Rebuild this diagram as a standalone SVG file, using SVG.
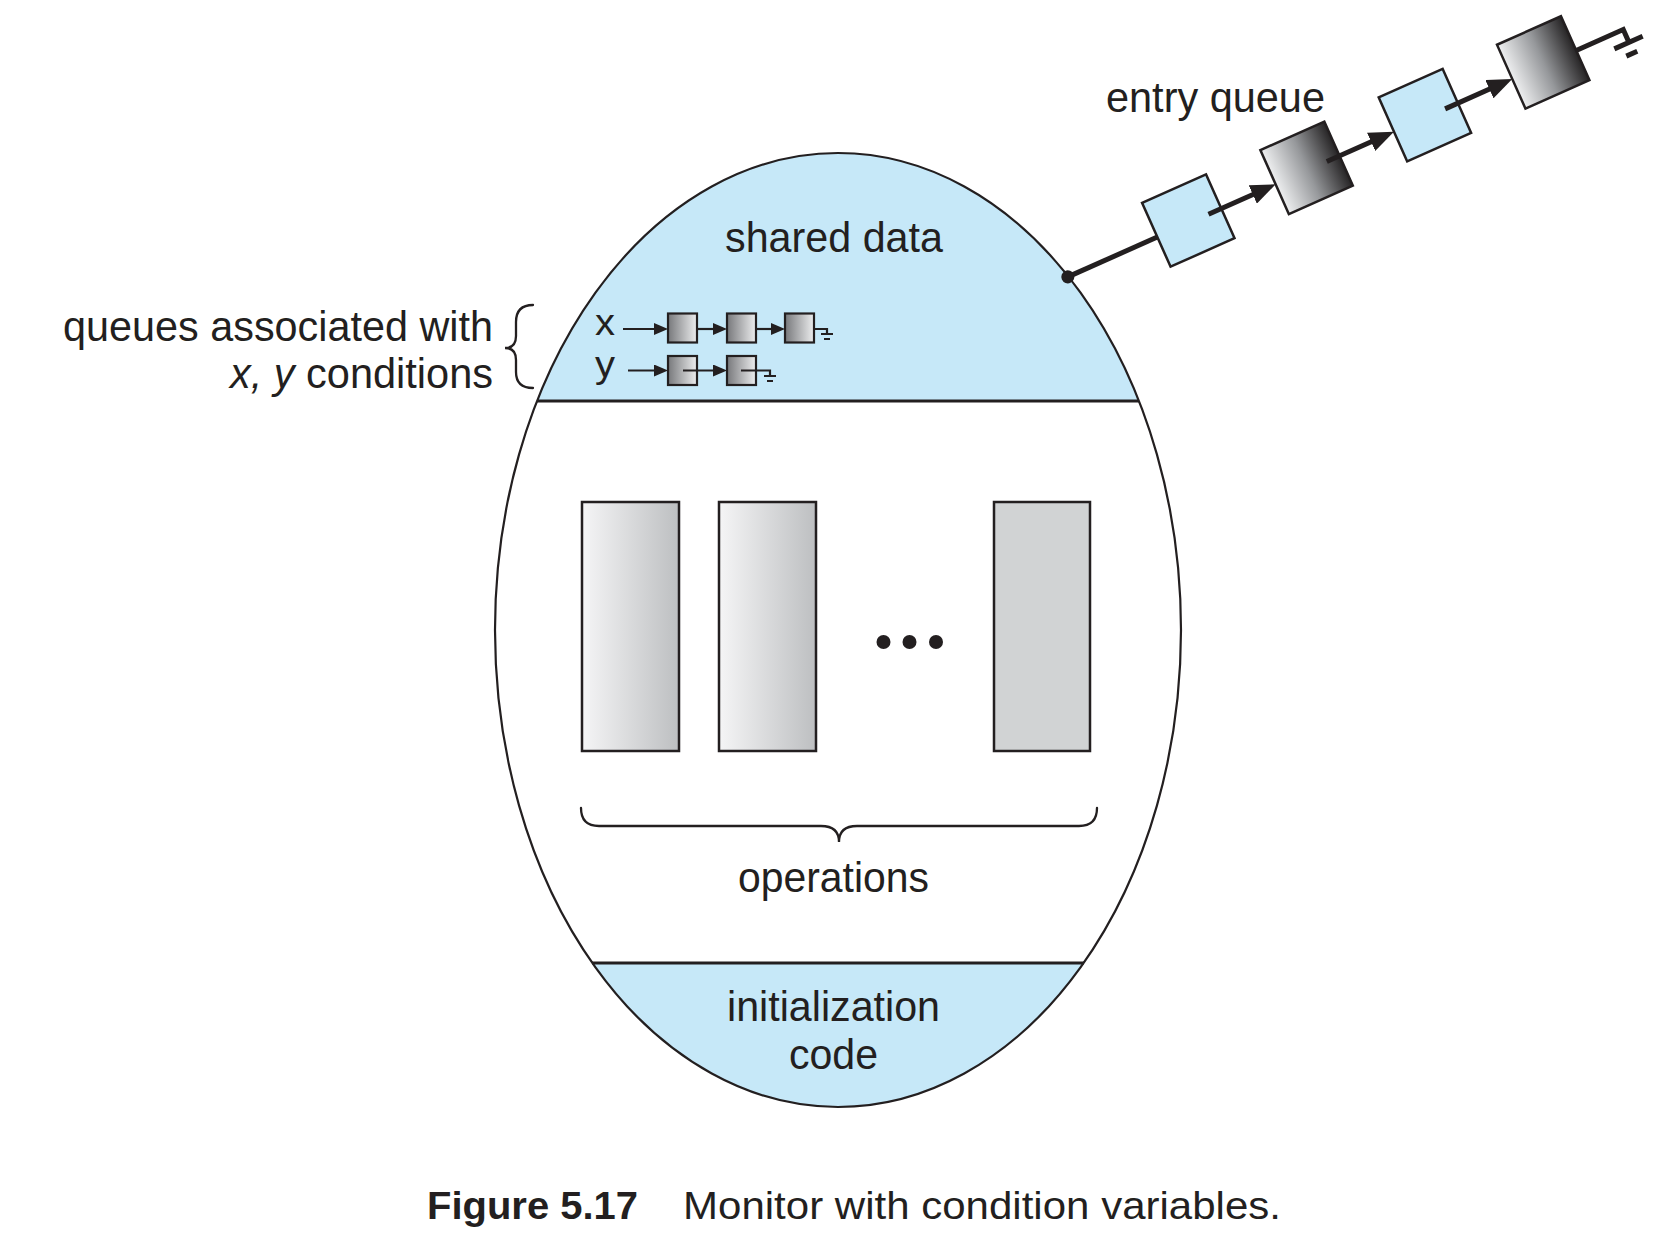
<svg xmlns="http://www.w3.org/2000/svg" width="1658" height="1240" viewBox="0 0 1658 1240">
  <style>
    .t { font-family: "Liberation Sans", Arial, sans-serif; font-size: 42px; fill: #231F20; }
    .ts { font-family: "Liberation Sans", Arial, sans-serif; font-size: 37px; fill: #231F20; }
    .cap { font-family: "Liberation Sans", Arial, sans-serif; font-size: 39px; fill: #231F20; }
    .edge { fill: none; stroke: #231F20; stroke-width: 2.2; }
    .band { fill: #C6E8F8; }
    .bandline { stroke: #231F20; stroke-width: 3; }
    .op { stroke: #231F20; stroke-width: 2.5; }
    .brace { fill: none; stroke: #231F20; stroke-width: 2.3; stroke-linecap: round; }
    .sbox { fill: url(#gSmall); stroke: #231F20; stroke-width: 2.2; }
    .sline { fill: none; stroke: #231F20; stroke-width: 2.2; }
    .ebox-blue { fill: #C6E8F8; stroke: #231F20; stroke-width: 2.5; }
    .ebox-dark { fill: url(#gDark); stroke: #231F20; stroke-width: 2.5; }
    .eline { fill: none; stroke: #231F20; stroke-width: 5; }
  </style>
  <defs>
    <linearGradient id="gOp" x1="0" y1="0" x2="1" y2="0">
      <stop offset="0" stop-color="#F5F5F6"/>
      <stop offset="1" stop-color="#BDBFC1"/>
    </linearGradient>
    <linearGradient id="gDark" x1="0" y1="0" x2="1" y2="0">
      <stop offset="0" stop-color="#EEEFF0"/>
      <stop offset="0.5" stop-color="#96989B"/>
      <stop offset="1" stop-color="#262425"/>
    </linearGradient>
    <linearGradient id="gSmall" x1="0" y1="0" x2="1" y2="0">
      <stop offset="0" stop-color="#77787B"/>
      <stop offset="1" stop-color="#EDEEEF"/>
    </linearGradient>
    <clipPath id="eggClip">
      <ellipse cx="838" cy="630" rx="343" ry="477"/>
    </clipPath>
    <marker id="arrS" viewBox="0 0 14 12" refX="8" refY="6" markerWidth="14" markerHeight="12" markerUnits="userSpaceOnUse" orient="auto">
      <path d="M0,0 L14,6 L0,12 z" fill="#231F20"/>
    </marker>
    <marker id="arrE" viewBox="0 0 25 20" refX="15" refY="10" markerWidth="25" markerHeight="20" markerUnits="userSpaceOnUse" orient="auto">
      <path d="M0,0 L25,10 L0,20 z" fill="#231F20"/>
    </marker>
  </defs>

  <rect x="0" y="0" width="1658" height="1240" fill="#FFFFFF"/>

  <!-- Monitor body -->
  <g id="monitor">
    <ellipse cx="838" cy="630" rx="343" ry="477" fill="#FFFFFF"/>
    <g clip-path="url(#eggClip)">
      <rect class="band" x="480" y="140" width="720" height="261"/>
      <rect class="band" x="480" y="963" width="720" height="160"/>
    </g>
    <line class="bandline" x1="537" y1="401" x2="1139" y2="401"/>
    <line class="bandline" x1="592" y1="963" x2="1084" y2="963"/>
    <ellipse class="edge" cx="838" cy="630" rx="343" ry="477"/>
  </g>

  <g id="shared-data">
    <text class="t" x="725" y="252" textLength="218" lengthAdjust="spacingAndGlyphs">shared data</text>
  </g>

  <!-- condition queues -->
  <g id="queue-x">
    <text class="ts" x="595" y="335" textLength="20" lengthAdjust="spacingAndGlyphs">x</text>
    <rect class="sbox" x="668" y="313.5" width="29" height="29"/>
    <rect class="sbox" x="727" y="313.5" width="29" height="29"/>
    <rect class="sbox" x="785" y="313.5" width="29" height="29"/>
  </g>
  <g id="queue-y">
    <text class="ts" x="595" y="376.5" textLength="20" lengthAdjust="spacingAndGlyphs">y</text>
    <rect class="sbox" x="668" y="356" width="29" height="29"/>
    <rect class="sbox" x="727" y="356" width="29" height="29"/>
  </g>

  <g id="queues-label">
    <text class="t" x="63" y="341" textLength="430" lengthAdjust="spacingAndGlyphs">queues associated with</text>
    <text class="t" x="230" y="388" textLength="263" lengthAdjust="spacingAndGlyphs"><tspan font-style="italic">x, y</tspan> conditions</text>
    <path class="brace" d="M533,305 Q516,305 516,322 L516,336 Q516,348 505,348 Q516,348 516,360 L516,372 Q516,388 533,388"/>
  </g>

  <!-- operations -->
  <g id="operations">
    <rect class="op" x="582" y="502" width="97" height="249" fill="url(#gOp)"/>
    <rect class="op" x="719" y="502" width="97" height="249" fill="url(#gOp)"/>
    <circle cx="883.5" cy="642" r="7" fill="#231F20"/>
    <circle cx="909.5" cy="642" r="7" fill="#231F20"/>
    <circle cx="936" cy="642" r="7" fill="#231F20"/>
    <rect class="op" x="994" y="502" width="96" height="249" fill="#D1D3D4"/>
    <path class="brace" d="M581,808 Q581,826 599,826 L821,826 Q839,826 839,842 Q839,826 857,826 L1079,826 Q1097,826 1097,808"/>
    <text class="t" x="738" y="892" textLength="191" lengthAdjust="spacingAndGlyphs">operations</text>
  </g>

  <g id="initialization-code">
    <text class="t" x="727" y="1021" textLength="213" lengthAdjust="spacingAndGlyphs">initialization</text>
    <text class="t" x="789" y="1069" textLength="89" lengthAdjust="spacingAndGlyphs">code</text>
  </g>

  <!-- entry queue -->
  <g id="entry-queue-label">
    <text class="t" x="1106" y="112" textLength="219" lengthAdjust="spacingAndGlyphs">entry queue</text>
  </g>
  <g id="entry-queue" transform="translate(1188.3,220.5) rotate(-24)">
    <g id="eq-1"><rect class="ebox-blue" x="-35" y="-35" width="70" height="70"/></g>
    <g id="eq-2"><rect class="ebox-dark" x="94.5" y="-35" width="70" height="70"/></g>
    <g id="eq-3"><rect class="ebox-blue" x="224" y="-35" width="70" height="70"/></g>
    <g id="eq-4"><rect class="ebox-dark" x="353.5" y="-35" width="70" height="70"/></g>
  </g>

  <!-- connectors -->
  <g id="connectors">
    <g transform="translate(1188.3,220.5) rotate(-24)">
      <line class="eline" x1="-133" y1="2.5" x2="-35" y2="2.5"/>
      <circle cx="-133" cy="2.5" r="6.5" fill="#231F20"/>
      <line class="eline" x1="21" y1="2.5" x2="84.5" y2="2.5" marker-end="url(#arrE)"/>
      <line class="eline" x1="150.5" y1="2.5" x2="214" y2="2.5" marker-end="url(#arrE)"/>
      <line class="eline" x1="280" y1="2.5" x2="343.5" y2="2.5" marker-end="url(#arrE)"/>
      <path class="eline" d="M423.5,2.5 L475,2.5 L475,16.5 M459,16.5 L490,16.5 M467,28 L479,28"/>
    </g>
    <!-- x queue -->
    <line class="sline" x1="623" y1="329" x2="662" y2="329" marker-end="url(#arrS)"/>
    <line class="sline" x1="697" y1="329" x2="721" y2="329" marker-end="url(#arrS)"/>
    <line class="sline" x1="756" y1="329" x2="779" y2="329" marker-end="url(#arrS)"/>
    <path class="sline" d="M814,329 L827,329 L827,334 M821,334 L833,334 M824,339 L830,339"/>
    <!-- y queue -->
    <line class="sline" x1="628" y1="370.5" x2="662" y2="370.5" marker-end="url(#arrS)"/>
    <line class="sline" x1="683" y1="370.5" x2="721" y2="370.5" marker-end="url(#arrS)"/>
    <path class="sline" d="M741,370.5 L770,370.5 L770,376 M764,376 L776,376 M767,381 L773,381"/>
  </g>

  <!-- caption -->
  <g id="caption">
    <text class="cap" x="427" y="1219" font-weight="bold" textLength="211" lengthAdjust="spacingAndGlyphs">Figure 5.17</text>
    <text class="cap" x="683" y="1219" textLength="598" lengthAdjust="spacingAndGlyphs">Monitor with condition variables.</text>
  </g>
</svg>
